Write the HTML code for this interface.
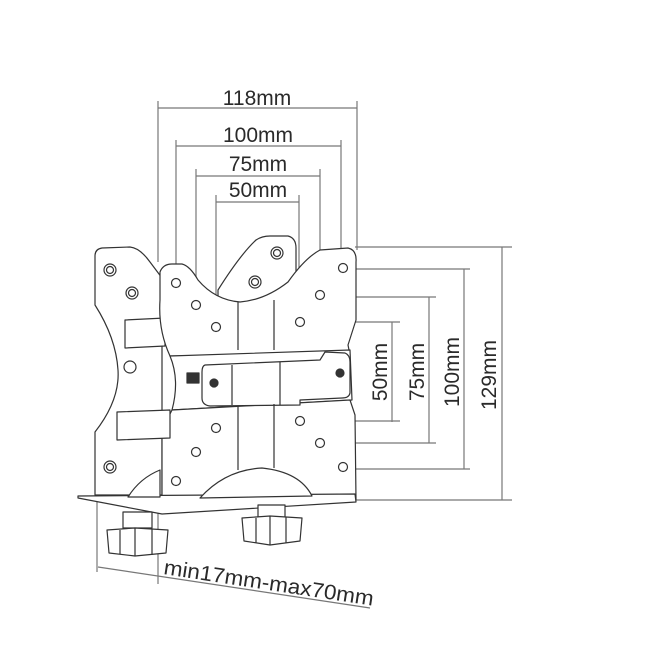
<!DOCTYPE html>
<html><head><meta charset="utf-8"><style>
html,body{margin:0;padding:0;background:#fff;}
svg{display:block;background:#fff}
text{font-family:"Liberation Sans",sans-serif;fill:#2a2a2a;}
</style></head><body>
<svg width="662" height="662" viewBox="0 0 662 662" xmlns="http://www.w3.org/2000/svg">
<rect x="0" y="0" width="662" height="662" style="fill:#ffffff;stroke:none"/>
<g stroke="#777" stroke-width="1.2" style="fill:none">
  <line x1="158" y1="108" x2="357" y2="108"/>
  <line x1="158" y1="101" x2="158" y2="262"/>
  <line x1="357" y1="101" x2="357" y2="250"/>
  <line x1="176" y1="146" x2="341" y2="146"/>
  <line x1="176" y1="140" x2="176" y2="277"/>
  <line x1="341" y1="140" x2="341" y2="264"/>
  <line x1="196" y1="176" x2="320" y2="176"/>
  <line x1="196" y1="169" x2="196" y2="300"/>
  <line x1="320" y1="169" x2="320" y2="290"/>
  <line x1="216" y1="202" x2="299" y2="202"/>
  <line x1="216" y1="195" x2="216" y2="322"/>
  <line x1="299" y1="195" x2="299" y2="317"/>
  <line x1="502" y1="247" x2="502" y2="500"/>
  <line x1="355" y1="247" x2="512" y2="247"/>
  <line x1="355" y1="500" x2="512" y2="500"/>
  <line x1="464" y1="269" x2="464" y2="469"/>
  <line x1="348" y1="269" x2="470" y2="269"/>
  <line x1="348" y1="469" x2="470" y2="469"/>
  <line x1="429" y1="297" x2="429" y2="443"/>
  <line x1="325" y1="297" x2="436" y2="297"/>
  <line x1="325" y1="443" x2="436" y2="443"/>
  <line x1="392" y1="322" x2="392" y2="422"/>
  <line x1="305" y1="322" x2="400" y2="322"/>
  <line x1="305" y1="421" x2="400" y2="421"/>
  <line x1="97" y1="500" x2="97" y2="572"/>
  <line x1="158" y1="512" x2="158" y2="584"/>
  <line x1="98" y1="567" x2="370" y2="608"/>
</g>
<g stroke="#333" stroke-width="1.2" stroke-linejoin="round">
  <path style="fill:#fff;fill-opacity:1" d="M102,248 L130,247 Q140,248 150,262 L162,278 L162,495 L95,495 L95,432 Q120,400 118,370 Q116,338 95,305 L95,256 Q95,249 102,248 Z"/>
  <path style="fill:#fff;fill-opacity:1" d="M218,290 Q240,255 256,240 Q262,236 270,236 L288,236 Q296,238 296,248 L296,352 L218,352 Z"/>
  <path style="fill:#fff;fill-opacity:1" d="M125,320 L165,318 L165,346 L125,348 Z"/>
  <path style="fill:#fff;fill-opacity:1" d="M160,272 Q163,264 172,264 L182,264 Q190,266 198,280 Q215,300 240,302 Q265,300 288,282 Q305,258 320,250 L348,248 Q357,250 356,262 L356,320 L348,345 L350,355 L170,356 Q158,330 160,300 Z"/>
  <path style="fill:#fff;fill-opacity:1" d="M170,356 L350,350 L352,400 L172,410 Q180,380 170,356 Z"/>
  <path style="fill:#fff;fill-opacity:1" d="M172,410 L350,400 L355,415 L356,500 L162,500 L162,430 Q168,418 172,410 Z"/>
  <path style="fill:#fff;fill-opacity:1" d="M117,412 L170,410 L170,438 L117,440 Z"/>
  <path style="fill:#fff;fill-opacity:1" d="M205,365 L320,360 L325,352 L345,353 Q350,355 350,362 L350,393 Q349,398 342,398 L300,400 L300,405 L210,406 Q202,405 202,398 L202,372 Q202,366 205,365 Z"/>
  <line x1="232" y1="365" x2="232" y2="405"/>
  <line x1="280" y1="362" x2="280" y2="405"/>
  <rect style="fill:#333" x="187" y="373" width="12" height="10"/>
  <line x1="238" y1="302" x2="238" y2="350"/>
  <line x1="274" y1="300" x2="274" y2="350"/>
  <line x1="238" y1="406" x2="238" y2="470"/>
  <line x1="274" y1="404" x2="274" y2="468"/>
  <path style="fill:#fff;fill-opacity:1" d="M78,496 L355,494 L356,502 L162,514 L78,498 Z"/>
  <path style="fill:#fff;fill-opacity:1" d="M200,498 Q225,470 262,468 Q300,472 312,496 Z"/>
  <path style="fill:#fff;fill-opacity:1" d="M128,497 Q140,478 160,470 L160,497 Z"/>
  <rect style="fill:#fff" x="123" y="512" width="29" height="16"/>
  <path style="fill:#fff;fill-opacity:1" d="M107,530 L135,528 L168,530 L166,553 L135,556 L109,553 Z"/>
  <line x1="120" y1="530" x2="120" y2="554"/><line x1="135" y1="528" x2="135" y2="556"/><line x1="152" y1="529" x2="152" y2="555"/>
  <rect style="fill:#fff" x="258" y="505" width="27" height="13"/>
  <path style="fill:#fff;fill-opacity:1" d="M242,518 L270,516 L302,518 L300,541 L270,545 L244,541 Z"/>
  <line x1="256" y1="518" x2="256" y2="543"/><line x1="270" y1="516" x2="270" y2="545"/><line x1="286" y1="517" x2="286" y2="543"/>
</g>
<g stroke="#333" stroke-width="1.2" style="fill:#fff">
  <circle cx="110" cy="270" r="6"/><circle cx="110" cy="270" r="3.5"/>
  <circle cx="132" cy="293" r="6"/><circle cx="132" cy="293" r="3.5"/>
  <circle cx="130" cy="367" r="6"/>
  <circle cx="110" cy="467" r="6"/><circle cx="110" cy="467" r="3.5"/>
  <circle cx="255" cy="282" r="6"/><circle cx="255" cy="282" r="3.5"/>
  <circle cx="277" cy="253" r="6"/><circle cx="277" cy="253" r="3.5"/>
  <circle cx="176" cy="283" r="4.5"/><circle cx="196" cy="305" r="4.5"/><circle cx="216" cy="327" r="4.5"/>
  <circle cx="343" cy="268" r="4.5"/><circle cx="320" cy="295" r="4.5"/><circle cx="300" cy="322" r="4.5"/>
  <circle cx="216" cy="428" r="4.5"/><circle cx="196" cy="452" r="4.5"/><circle cx="176" cy="481" r="4.5"/>
  <circle cx="300" cy="421" r="4.5"/><circle cx="320" cy="443" r="4.5"/><circle cx="343" cy="467" r="4.5"/>
  <circle style="fill:#333" cx="214" cy="383" r="4"/><circle style="fill:#333" cx="340" cy="373" r="4"/>
</g>
<g font-size="21">
  <text x="257" y="105" text-anchor="middle">118mm</text>
  <text x="258" y="142" text-anchor="middle">100mm</text>
  <text x="258" y="171" text-anchor="middle">75mm</text>
  <text x="258" y="197" text-anchor="middle">50mm</text>
  <text transform="translate(387,372) rotate(-90)" text-anchor="middle">50mm</text>
  <text transform="translate(424,372) rotate(-90)" text-anchor="middle">75mm</text>
  <text transform="translate(459,372) rotate(-90)" text-anchor="middle">100mm</text>
  <text transform="translate(496,375) rotate(-90)" text-anchor="middle">129mm</text>
  <text transform="translate(163,574) rotate(8.6)" textLength="212" lengthAdjust="spacingAndGlyphs">min17mm-max70mm</text>
</g>
</svg>
</body></html>
